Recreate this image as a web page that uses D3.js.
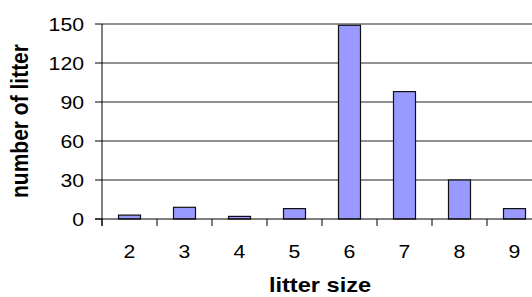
<!DOCTYPE html>
<html>
<head>
<meta charset="utf-8">
<script src="https://cdn.jsdelivr.net/npm/d3@7"></script>
<style>
  body { margin: 0; background: #fff; }
  svg { display: block; font-family: Arial, "Liberation Sans", sans-serif; }
</style>
</head>
<body>
<svg id="chart" width="532" height="297"></svg>
<script>
// litter size categories and counts
var sizes = ["2", "3", "4", "5", "6", "7", "8", "9"];
var counts = [3, 9, 2, 8, 149, 98, 30, 8];
var yTicks = [0, 30, 60, 90, 120, 150];

var svg = d3.select("#chart"),
    margin = {left: 102, top: 24},
    plotRight = 542,          // plot runs past the right edge in the reference
    plotBottom = 219,
    stretch = 1.18;           // text in the reference is wider than normal

var x = d3.scaleBand().domain(sizes).range([margin.left, plotRight])
    .paddingInner(0.6).paddingOuter(0.3);
var y = d3.scaleLinear().domain([0, 150]).range([plotBottom, margin.top]);

// gridlines
svg.append("g").selectAll("line")
    .data(yTicks.filter(d => d > 0))
    .enter().append("line")
    .attr("x1", margin.left).attr("x2", plotRight)
    .attr("y1", d => y(d)).attr("y2", d => y(d))
    .style("stroke", "#222").style("stroke-width", 1);

// y tick marks and labels
svg.append("g").selectAll("line")
    .data(yTicks).enter().append("line")
    .attr("x1", margin.left - 7).attr("x2", margin.left)
    .attr("y1", d => y(d)).attr("y2", d => y(d))
    .style("stroke", "#000");

svg.append("g").selectAll("text")
    .data(yTicks).enter().append("text")
    .attr("transform", d => "translate(84," + (y(d) + 6.5) + ") scale(" + stretch + ",1)")
    .attr("text-anchor", "end")
    .style("font-size", "18px")
    .text(d => d);

// bars
svg.append("g").selectAll("rect")
    .data(counts).enter().append("rect")
    .attr("x", (d, i) => x(sizes[i]))
    .attr("y", d => y(d))
    .attr("width", x.bandwidth())
    .attr("height", d => plotBottom - y(d))
    .style("fill", "#9999FF")
    .style("stroke", "#111")
    .style("stroke-width", 1.2);

// axes lines
svg.append("line")
    .attr("x1", margin.left).attr("x2", margin.left)
    .attr("y1", margin.top).attr("y2", plotBottom + 7)
    .style("stroke", "#000");
svg.append("line")
    .attr("x1", margin.left - 7).attr("x2", plotRight)
    .attr("y1", plotBottom).attr("y2", plotBottom)
    .style("stroke", "#000");

// x tick marks at category boundaries
svg.append("g").selectAll("line")
    .data(d3.range(sizes.length + 1)).enter().append("line")
    .attr("x1", i => margin.left + i * x.step())
    .attr("x2", i => margin.left + i * x.step())
    .attr("y1", plotBottom).attr("y2", plotBottom + 7)
    .style("stroke", "#000");

svg.append("g").selectAll("text")
    .data(sizes).enter().append("text")
    .attr("transform", d => "translate(" + (x(d) + x.bandwidth() / 2) + ",258) scale(" + stretch + ",1)")
    .attr("text-anchor", "middle")
    .style("font-size", "18px")
    .text(d => d);

// axis titles
svg.append("text")
    .attr("transform", "translate(320,292) scale(" + stretch + ",1)")
    .attr("text-anchor", "middle")
    .style("font-size", "20px")
    .style("font-weight", "bold")
    .text("litter size");

svg.append("text")
    .attr("transform", "translate(28,121) scale(" + stretch + ",1) rotate(-90)")
    .attr("text-anchor", "middle")
    .style("font-size", "21px")
    .style("font-weight", "bold")
    .text("number of litter");
</script>
</body>
</html>
